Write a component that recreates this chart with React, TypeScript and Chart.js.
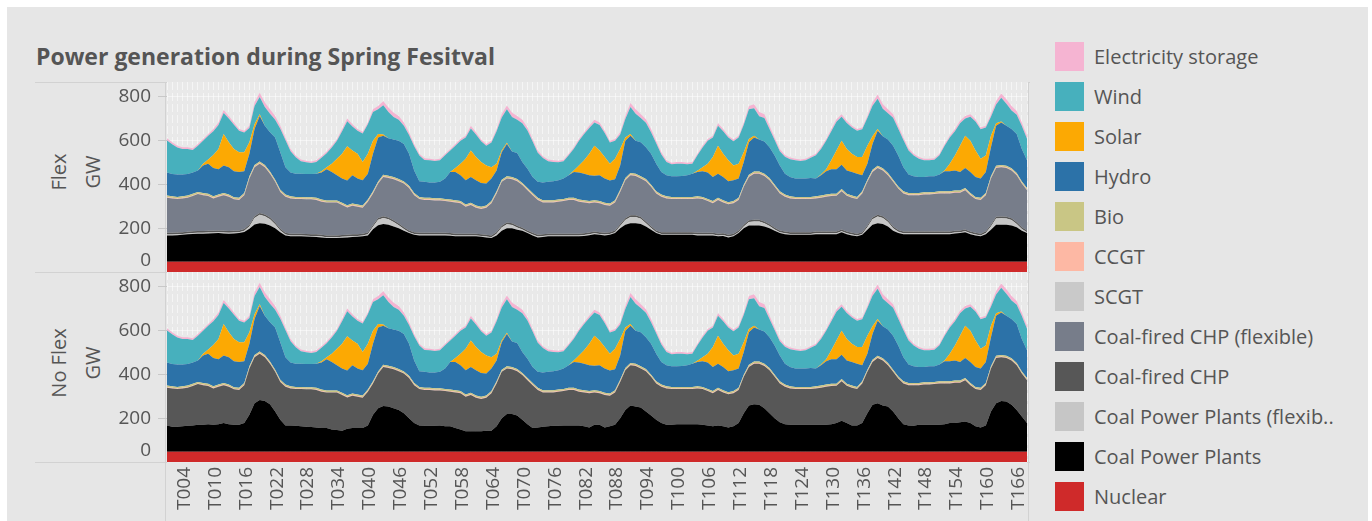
import React, { useEffect, useRef } from 'react';
import { Chart, registerables } from 'chart.js';

Chart.register(...registerables);

const FONT = "'Open Sans', sans-serif";
const TEXT = '#555555';

// Categories: hourly time steps T001..T168
const hours: string[] = Array.from({ length: 168 }, (_, i) => 'T' + String(i + 1).padStart(3, '0'));

// ---- Series values (GW), one row per day of 24 hours ----
const nuclear = [
  47,47,47,47,47,47,47,47,47,47,47,47,47,47,47,47,47,47,47,47,47,47,47,47,
  47,47,47,47,47,47,47,47,47,47,47,47,47,47,47,47,47,47,47,47,47,47,47,47,
  47,47,47,47,47,47,47,47,47,47,47,47,47,47,47,47,47,47,47,47,47,47,47,47,
  47,47,47,47,47,47,47,47,47,47,47,47,47,47,47,47,47,47,47,47,47,47,47,47,
  47,47,47,47,47,47,47,47,47,47,47,47,47,47,47,47,47,47,47,47,47,47,47,47,
  47,47,47,47,47,47,47,47,47,47,47,47,47,47,47,47,47,47,47,47,47,47,47,47,
  47,47,47,47,47,47,47,47,47,47,47,47,47,47,47,47,47,47,47,47,47,47,47,47,
];

const flexCoalPP = [
  120,120,121,123,125,127,128,128,129,130,131,129,128,129,131,136,151,170,176,173,166,153,135,120,
  116,116,116,115,114,113,111,108,108,108,110,111,113,114,116,120,148,167,172,169,161,153,141,131,
  123,120,120,120,120,120,120,119,116,116,116,116,116,114,111,108,120,141,153,153,146,141,131,120,
  111,113,116,116,116,116,116,116,116,118,121,126,123,120,123,131,153,169,176,176,172,161,146,131,
  123,123,123,123,123,123,123,120,120,120,120,116,118,111,116,131,153,166,166,166,161,153,141,131,
  126,123,123,123,123,123,126,126,126,126,126,135,126,120,116,123,146,169,176,172,161,141,131,126,
  126,126,126,126,126,126,126,126,126,129,131,135,126,120,116,126,146,169,169,169,166,157,141,131,
];

const flexCoalPPFlex = [
  4,4,4,4,4,4,4,4,4,4,4,4,4,4,4,5,10,30,38,35,28,18,8,4,
  4,4,4,4,4,4,4,4,4,4,4,4,4,4,4,5,12,25,28,25,20,14,8,4,
  4,4,4,4,4,4,4,4,4,4,4,4,4,4,4,4,8,15,18,15,10,6,4,4,
  4,4,4,4,4,4,4,4,4,4,4,4,4,4,4,4,10,22,28,28,24,15,8,4,
  4,4,4,4,4,4,4,4,4,4,4,4,4,4,4,4,8,15,18,18,15,10,6,4,
  4,4,4,4,4,4,4,4,4,4,4,4,4,4,4,4,12,25,30,28,20,12,6,4,
  4,4,4,4,4,4,4,4,4,4,4,4,4,4,4,5,15,28,30,28,24,15,8,4,
];

const flexCHP = [
  8,8,8,8,8,8,8,8,8,8,8,8,8,8,8,8,8,8,8,8,8,8,8,8,
  8,8,8,8,8,8,8,8,8,8,8,8,8,8,8,8,8,8,8,8,8,8,8,8,
  8,8,8,8,8,8,8,8,8,8,8,8,8,8,8,8,8,8,8,8,8,8,8,8,
  8,8,8,8,8,8,8,8,8,8,8,8,8,8,8,8,8,8,8,8,8,8,8,8,
  8,8,8,8,8,8,8,8,8,8,8,8,8,8,8,8,8,8,8,8,8,8,8,8,
  8,8,8,8,8,8,8,8,8,8,8,8,8,8,8,8,8,8,8,8,8,8,8,8,
  8,8,8,8,8,8,8,8,8,8,8,8,8,8,8,8,8,8,8,8,8,8,8,8,
];

const flexCHPFlex = [
  160,157,153,154,155,161,169,164,159,147,154,163,157,144,139,155,211,224,226,216,200,186,168,165,
  161,158,158,158,159,157,151,150,150,150,137,125,131,125,119,141,144,157,179,181,188,193,200,194,
  169,154,150,150,148,148,145,143,143,139,123,131,119,115,124,147,176,201,201,201,204,195,184,172,
  159,146,143,143,146,149,154,154,146,141,134,133,132,127,121,128,148,173,183,180,176,184,180,169,
  162,154,151,151,151,151,151,157,154,145,135,154,141,139,139,139,173,198,210,210,208,201,187,169,
  159,154,151,151,151,151,151,154,159,162,163,175,163,160,158,177,199,208,214,209,206,204,189,174,
  166,166,166,169,169,171,174,174,174,174,172,180,166,154,154,165,211,223,225,223,219,215,200,184,
];

const zeroSeries = [
  0,0,0,0,0,0,0,0,0,0,0,0,0,0,0,0,0,0,0,0,0,0,0,0,
  0,0,0,0,0,0,0,0,0,0,0,0,0,0,0,0,0,0,0,0,0,0,0,0,
  0,0,0,0,0,0,0,0,0,0,0,0,0,0,0,0,0,0,0,0,0,0,0,0,
  0,0,0,0,0,0,0,0,0,0,0,0,0,0,0,0,0,0,0,0,0,0,0,0,
  0,0,0,0,0,0,0,0,0,0,0,0,0,0,0,0,0,0,0,0,0,0,0,0,
  0,0,0,0,0,0,0,0,0,0,0,0,0,0,0,0,0,0,0,0,0,0,0,0,
  0,0,0,0,0,0,0,0,0,0,0,0,0,0,0,0,0,0,0,0,0,0,0,0,
];

const ccgt = [
  3,3,3,3,3,3,3,3,3,3,3,3,3,3,3,3,3,3,3,3,3,3,3,3,
  3,3,3,3,3,3,3,3,3,3,3,3,3,3,3,3,3,3,3,3,3,3,3,3,
  3,3,3,3,3,3,3,3,3,3,3,3,3,3,3,3,3,3,3,3,3,3,3,3,
  3,3,3,3,3,3,3,3,3,3,3,3,3,3,3,3,3,3,3,3,3,3,3,3,
  3,3,3,3,3,3,3,3,3,3,3,3,3,3,3,3,3,3,3,3,3,3,3,3,
  3,3,3,3,3,3,3,3,3,3,3,3,3,3,3,3,3,3,3,3,3,3,3,3,
  3,3,3,3,3,3,3,3,3,3,3,3,3,3,3,3,3,3,3,3,3,3,3,3,
];

const bio = [
  7,7,7,7,7,7,7,7,7,7,7,7,7,7,7,7,7,7,7,7,7,7,7,7,
  7,7,7,7,7,7,7,7,7,7,7,7,7,7,7,7,7,7,7,7,7,7,7,7,
  7,7,7,7,7,7,7,7,7,7,7,7,7,7,7,7,7,7,7,7,7,7,7,7,
  7,7,7,7,7,7,7,7,7,7,7,7,7,7,7,7,7,7,7,7,7,7,7,7,
  7,7,7,7,7,7,7,7,7,7,7,7,7,7,7,7,7,7,7,7,7,7,7,7,
  7,7,7,7,7,7,7,7,7,7,7,7,7,7,7,7,7,7,7,7,7,7,7,7,
  7,7,7,7,7,7,7,7,7,7,7,7,7,7,7,7,7,7,7,7,7,7,7,7,
];

const hydro = [
  105,102,102,99,99,97,98,126,138,129,115,126,125,118,118,99,103,164,208,179,179,193,171,125,
  108,106,106,106,106,110,123,142,130,115,111,113,129,119,115,118,171,201,179,171,171,175,171,146,
  103,72,73,70,72,75,93,126,129,118,111,118,115,109,100,103,95,125,148,116,119,95,88,73,
  73,81,84,87,88,93,103,118,123,121,118,112,118,111,105,96,111,171,171,151,156,145,141,125,
  103,96,94,94,96,99,106,111,117,120,110,110,106,96,95,88,103,149,156,146,147,141,133,118,
  95,88,84,84,84,87,81,93,106,112,111,111,106,108,106,73,72,118,160,146,153,155,141,110,
  84,76,73,70,73,71,76,91,91,92,85,91,96,91,88,96,133,183,194,183,179,178,148,126,
];

const solar = [
  0,0,0,0,0,0,0,7,19,60,93,143,114,102,90,87,53,22,8,0,0,0,0,0,
  0,0,0,0,0,0,6,10,37,75,113,156,113,113,83,91,60,15,5,0,0,0,0,0,
  0,0,0,0,0,0,0,0,18,52,98,121,106,95,83,52,30,8,5,0,0,0,0,0,
  0,0,0,0,0,0,0,7,33,61,98,137,113,98,76,93,75,15,7,0,0,0,0,0,
  0,0,0,0,0,0,0,5,19,40,91,128,106,95,68,67,45,15,8,0,0,0,0,0,
  0,0,0,0,0,0,0,3,9,41,86,110,98,83,76,83,83,35,8,0,0,0,0,0,
  0,0,0,0,0,0,0,4,34,68,120,148,143,121,90,75,53,12,4,0,0,0,0,0,
];

const wind = [
  147,136,124,117,114,103,113,106,108,108,109,96,108,111,98,90,65,83,78,86,85,80,107,124,
  98,75,57,53,50,54,62,64,75,83,103,115,110,105,131,135,131,113,134,120,103,95,83,86,
  111,117,100,101,98,98,106,98,102,106,98,101,103,95,90,113,149,151,153,158,151,177,174,162,
  133,112,94,88,82,79,91,99,113,120,118,106,116,110,98,83,66,84,124,123,110,112,99,94,
  80,60,55,58,56,50,46,71,90,106,90,91,103,105,110,121,126,135,125,106,107,83,71,65,
  78,81,83,80,83,92,106,117,131,133,131,109,119,120,120,127,126,139,138,126,120,128,122,124,
  110,95,83,76,73,76,88,113,121,111,102,78,109,133,135,128,86,85,109,101,85,88,105,99,
];

const storage = [
  10,9,8,8,8,8,8,8,8,10,12,14,12,10,8,8,10,16,20,20,20,18,14,12,
  10,8,8,7,7,7,7,7,8,8,10,12,10,8,8,8,12,15,18,20,20,18,15,12,
  10,8,8,7,7,7,7,7,8,8,8,12,10,8,8,8,10,15,18,20,18,16,14,12,
  10,8,8,7,7,7,7,7,8,8,10,12,12,10,8,8,10,14,18,20,18,16,14,12,
  10,8,7,7,7,7,7,7,8,8,8,12,10,8,8,8,10,15,18,20,18,15,12,10,
  8,8,7,7,7,7,7,8,8,10,12,12,10,8,8,8,10,15,20,20,18,16,14,12,
  10,8,8,7,7,7,7,8,8,10,12,12,12,10,8,8,12,16,20,20,20,18,16,14,
];

const noFlexCoalPP = [
  120,114,114,116,119,120,123,123,126,123,126,131,126,123,123,131,169,221,236,232,217,184,146,120,
  120,119,116,114,113,111,108,108,101,99,96,105,108,108,108,120,169,199,209,206,199,191,176,153,
  131,120,119,119,119,120,116,116,108,101,93,93,93,93,96,96,116,153,172,172,166,146,126,108,
  111,114,116,119,119,120,120,120,120,116,111,123,123,111,116,123,153,191,211,206,202,184,166,146,
  131,123,123,126,126,126,126,126,123,120,116,120,116,111,116,131,176,211,217,214,199,176,153,135,
  126,123,123,123,123,123,123,123,123,126,131,141,131,120,120,131,176,214,221,211,206,184,153,126,
  120,119,123,123,123,123,123,126,131,131,135,138,131,116,111,120,184,221,232,229,214,191,161,131,
];

const noFlexCHP = [
  172,175,172,173,173,180,186,181,174,166,171,173,171,162,159,173,211,211,212,200,185,181,173,177,
  169,167,170,171,172,171,166,162,169,171,163,143,148,143,139,154,143,158,178,177,178,177,181,184,
  173,166,163,163,161,160,161,158,163,166,158,166,154,148,151,171,196,212,208,205,202,204,201,196,
  171,157,155,152,155,157,162,162,154,155,156,148,144,148,140,148,166,181,184,186,178,184,176,166,
  166,166,163,160,160,160,160,163,163,157,151,162,155,151,151,151,166,176,185,188,193,196,189,177,
  171,166,163,163,163,163,166,169,174,174,170,181,170,172,166,181,189,196,207,206,189,181,181,186,
  184,185,181,184,184,186,189,186,181,184,180,189,173,170,171,184,196,207,200,199,203,204,196,196,
];

const yTicks = [0, 200, 400, 600, 800];

type Series = { label: string; color: string; data: number[] };

const COLORS: Record<string, string> = {
  'Electricity storage': '#f5b4d2',
  'Wind': '#47b0bd',
  'Solar': '#fca903',
  'Hydro': '#2c72a8',
  'Bio': '#c9c685',
  'CCGT': '#fdb8a4',
  'SCGT': '#c9c9c9',
  'Coal-fired CHP (flexible)': '#777d8a',
  'Coal-fired CHP': '#575757',
  'Coal Power Plants (flexible)': '#c6c6c6',
  'Coal Power Plants': '#000000',
  'Nuclear': '#cf2a2a',
};

const flexSeries: Series[] = [
  { label: 'Nuclear', color: COLORS['Nuclear'], data: nuclear },
  { label: 'Coal Power Plants', color: COLORS['Coal Power Plants'], data: flexCoalPP },
  { label: 'Coal Power Plants (flexible)', color: COLORS['Coal Power Plants (flexible)'], data: flexCoalPPFlex },
  { label: 'Coal-fired CHP', color: COLORS['Coal-fired CHP'], data: flexCHP },
  { label: 'Coal-fired CHP (flexible)', color: COLORS['Coal-fired CHP (flexible)'], data: flexCHPFlex },
  { label: 'SCGT', color: COLORS['SCGT'], data: zeroSeries },
  { label: 'CCGT', color: COLORS['CCGT'], data: ccgt },
  { label: 'Bio', color: COLORS['Bio'], data: bio },
  { label: 'Hydro', color: COLORS['Hydro'], data: hydro },
  { label: 'Solar', color: COLORS['Solar'], data: solar },
  { label: 'Wind', color: COLORS['Wind'], data: wind },
  { label: 'Electricity storage', color: COLORS['Electricity storage'], data: storage },
];

const noFlexSeries: Series[] = [
  { label: 'Nuclear', color: COLORS['Nuclear'], data: nuclear },
  { label: 'Coal Power Plants', color: COLORS['Coal Power Plants'], data: noFlexCoalPP },
  { label: 'Coal Power Plants (flexible)', color: COLORS['Coal Power Plants (flexible)'], data: zeroSeries },
  { label: 'Coal-fired CHP', color: COLORS['Coal-fired CHP'], data: noFlexCHP },
  { label: 'Coal-fired CHP (flexible)', color: COLORS['Coal-fired CHP (flexible)'], data: zeroSeries },
  { label: 'SCGT', color: COLORS['SCGT'], data: zeroSeries },
  { label: 'CCGT', color: COLORS['CCGT'], data: ccgt },
  { label: 'Bio', color: COLORS['Bio'], data: bio },
  { label: 'Hydro', color: COLORS['Hydro'], data: hydro },
  { label: 'Solar', color: COLORS['Solar'], data: solar },
  { label: 'Wind', color: COLORS['Wind'], data: wind },
  { label: 'Electricity storage', color: COLORS['Electricity storage'], data: storage },
];

const legendItems = [
  'Electricity storage', 'Wind', 'Solar', 'Hydro', 'Bio', 'CCGT', 'SCGT',
  'Coal-fired CHP (flexible)', 'Coal-fired CHP', 'Coal Power Plants (flexib..',
  'Coal Power Plants', 'Nuclear',
];
const legendColorKeys = [
  'Electricity storage', 'Wind', 'Solar', 'Hydro', 'Bio', 'CCGT', 'SCGT',
  'Coal-fired CHP (flexible)', 'Coal-fired CHP', 'Coal Power Plants (flexible)',
  'Coal Power Plants', 'Nuclear',
];

const bgPlugin = {
  id: 'plotBg',
  beforeDraw(chart: any) {
    const { ctx, chartArea } = chart;
    if (!chartArea) return;
    ctx.save();
    ctx.fillStyle = '#e9e9e9';
    ctx.fillRect(chartArea.left, chartArea.top, chartArea.right - chartArea.left, chartArea.bottom - chartArea.top);
    ctx.restore();
  },
};

function makeConfig(series: Series[], showX: boolean): any {
  return {
    type: 'line',
    data: {
      labels: hours,
      datasets: series.map((s) => ({
        label: s.label,
        data: s.data,
        backgroundColor: s.color,
        borderColor: s.color,
        borderWidth: 0,
        pointRadius: 0,
        pointHoverRadius: 0,
        tension: 0,
        fill: 'stack',
      })),
    },
    options: {
      animation: false,
      responsive: false,
      maintainAspectRatio: false,
      events: [],
      layout: { padding: { left: 0, right: 3, top: showX ? 0 : 10, bottom: 0 } },
      plugins: { legend: { display: false }, tooltip: { enabled: false } },
      scales: {
        x: {
          type: 'category',
          offset: false,
          grid: { color: 'rgba(255,255,255,0.55)', lineWidth: 1, drawTicks: false },
          border: { display: false, dash: [8, 3] },
          ticks: showX
            ? {
                display: true,
                autoSkip: false,
                minRotation: 90,
                maxRotation: 90,
                padding: 5,
                labelOffset: 2,
                color: TEXT,
                font: { family: FONT, size: 19 },
                callback: (_v: any, idx: number) => (idx % 6 === 3 ? hours[idx] : ''),
              }
            : { display: false },
          afterFit: (s: any) => {
            s.height = showX ? 59 : 0;
            s.paddingLeft = 0;
            s.paddingRight = 0;
          },
        },
        y: {
          stacked: true,
          min: 0,
          max: 868,
          afterBuildTicks: (s: any) => {
            s.ticks = yTicks.map((v) => ({ value: v }));
          },
          ticks: {
            color: TEXT,
            padding: 7,
            autoSkip: false,
            font: { family: FONT, size: 19, lineHeight: 1.15 },
            callback: (v: any) => (v === 0 ? ['0', ''] : String(v)),
          },
          grid: {
            color: 'rgba(255,255,255,0.5)',
            lineWidth: 1,
            drawTicks: true,
            tickLength: 9,
            tickColor: (ctx: any) => (ctx.tick && ctx.tick.value === 0 ? 'rgba(0,0,0,0)' : '#c8c8c8'),
          },
          border: { display: false },
          afterFit: (s: any) => {
            s.width = 77;
            s.paddingTop = 0;
            s.paddingBottom = 0;
          },
        },
      },
    },
    plugins: [bgPlugin],
  };
}

const abs = (style: React.CSSProperties): React.CSSProperties => ({ position: 'absolute', ...style });
const LINE = '#d2d2d2';

function RotLabel({ text, cx, cy }: { text: string; cx: number; cy: number }) {
  return (
    <div
      style={abs({
        left: cx,
        top: cy,
        transform: 'translate(-50%, -50%) rotate(-90deg)',
        whiteSpace: 'nowrap',
        fontFamily: FONT,
        fontSize: 20,
        lineHeight: '24px',
        color: TEXT,
      })}
    >
      {text}
    </div>
  );
}

export default function App() {
  const topRef = useRef<HTMLCanvasElement>(null);
  const botRef = useRef<HTMLCanvasElement>(null);

  useEffect(() => {
    const c1 = new Chart(topRef.current as HTMLCanvasElement, makeConfig(flexSeries, false));
    const c2 = new Chart(botRef.current as HTMLCanvasElement, makeConfig(noFlexSeries, true));
    return () => {
      c1.destroy();
      c2.destroy();
    };
  }, []);

  return (
    <div style={abs({ left: 0, top: 0, width: 1372, height: 521, overflow: 'hidden', background: '#ffffff' })}>
      <div style={abs({ left: 7, top: 7, width: 1361, height: 514, background: '#e6e6e6' })} />
      <div
        style={abs({
          left: 36,
          top: 42,
          fontFamily: FONT,
          fontWeight: 700,
          fontSize: 23,
          lineHeight: '29px',
          color: TEXT,
          whiteSpace: 'nowrap',
        })}
      >
        Power generation during Spring Fesitval
      </div>

      {/* pane borders */}
      <div style={abs({ left: 35, top: 82, width: 995, height: 1, background: LINE })} />
      <div style={abs({ left: 35, top: 272, width: 995, height: 1, background: LINE })} />
      <div style={abs({ left: 35, top: 462, width: 995, height: 1, background: LINE })} />
      <div style={abs({ left: 165, top: 82, width: 1, height: 439, background: LINE })} />
      <div style={abs({ left: 1028, top: 82, width: 1, height: 439, background: LINE })} />

      <RotLabel text="Flex" cx={59} cy={172} />
      <RotLabel text="GW" cx={93} cy={172} />
      <RotLabel text="No Flex" cx={59} cy={363} />
      <RotLabel text="GW" cx={93} cy={363} />

      <canvas ref={topRef} width={940} height={200} style={abs({ left: 90, top: 72, width: 940, height: 200 })} />
      <canvas ref={botRef} width={940} height={249} style={abs({ left: 90, top: 272, width: 940, height: 249 })} />

      {legendItems.map((name, i) => (
        <React.Fragment key={name}>
          <div
            style={abs({
              left: 1055,
              top: 42 + i * 40,
              width: 29,
              height: 29,
              background: COLORS[legendColorKeys[i]],
            })}
          />
          <div
            style={abs({
              left: 1094,
              top: 42 + i * 40,
              height: 29,
              lineHeight: '29px',
              fontFamily: FONT,
              fontSize: 20,
              color: TEXT,
              whiteSpace: 'nowrap',
            })}
          >
            {name}
          </div>
        </React.Fragment>
      ))}
    </div>
  );
}
